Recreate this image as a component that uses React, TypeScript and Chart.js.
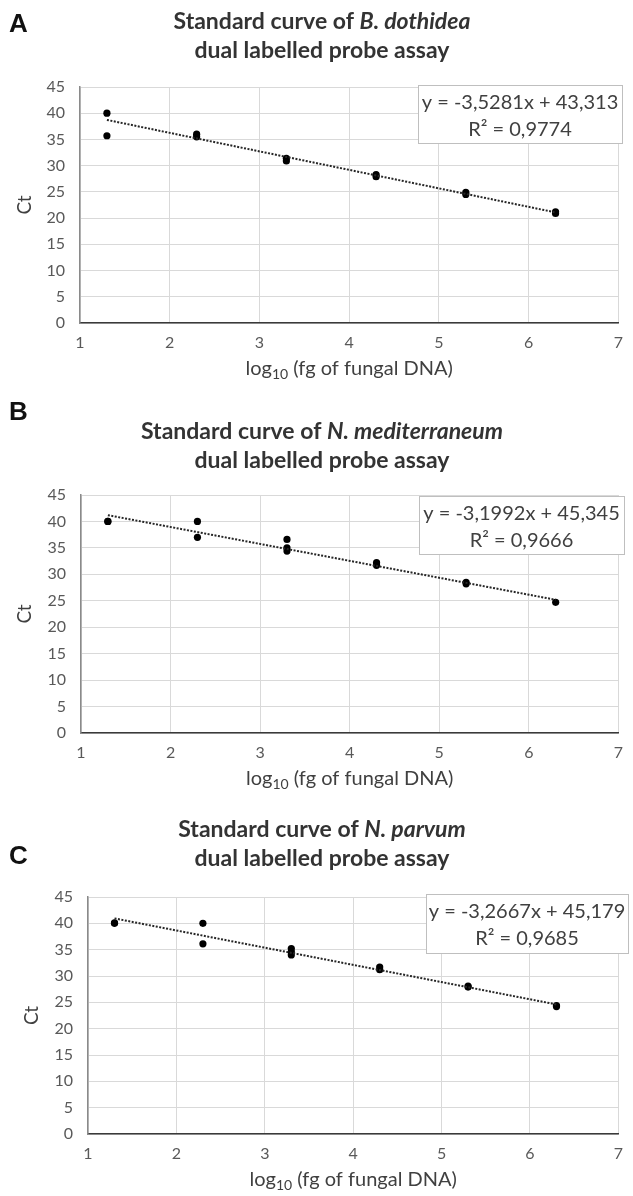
import React, { useEffect, useRef } from "react";
import { Chart, registerables } from "chart.js";

Chart.register(...registerables);

// ---------- shared axis definitions ----------
const X_MIN = 1;
const X_MAX = 7;
const Y_MIN = 0;
const Y_MAX = 45;
const X_STEP = 1;
const Y_STEP = 5;
const X_TITLE_MAIN = "log";
const X_TITLE_SUB = "10";
const X_TITLE_REST = " (fg of fungal DNA)";
const Y_TITLE = "Ct";

// ---------- panel A: B. dothidea ----------
const A_LOG_DNA = [1.3, 1.3, 2.3, 2.3, 3.3, 3.3, 4.3, 4.3, 5.3, 5.3, 6.3, 6.3];
const A_CT = [40.0, 35.7, 36.0, 35.5, 31.4, 30.9, 28.3, 27.9, 24.9, 24.5, 21.2, 20.9];
const A_SLOPE = -3.5281;
const A_INTERCEPT = 43.313;
const A_EQUATION = "y = -3,5281x + 43,313";
const A_R2 = "R² = 0,9774";
const A_SPECIES = "B. dothidea";

// ---------- panel B: N. mediterraneum ----------
const B_LOG_DNA = [1.3, 1.3, 2.3, 2.3, 3.3, 3.3, 3.3, 4.3, 4.3, 5.3, 5.3, 6.3];
const B_CT = [40.0, 40.0, 40.0, 37.0, 36.6, 35.0, 34.4, 32.2, 31.7, 28.5, 28.2, 24.7];
const B_SLOPE = -3.1992;
const B_INTERCEPT = 45.345;
const B_EQUATION = "y = -3,1992x + 45,345";
const B_R2 = "R² = 0,9666";
const B_SPECIES = "N. mediterraneum";

// ---------- panel C: N. parvum ----------
const C_LOG_DNA = [1.3, 1.3, 2.3, 2.3, 3.3, 3.3, 3.3, 4.3, 4.3, 5.3, 5.3, 6.3, 6.3];
const C_CT = [40.1, 40.0, 40.0, 36.1, 35.2, 34.6, 34.0, 31.7, 31.2, 28.1, 27.9, 24.4, 24.2];
const C_SLOPE = -3.2667;
const C_INTERCEPT = 45.179;
const C_EQUATION = "y = -3,2667x + 45,179";
const C_R2 = "R² = 0,9685";
const C_SPECIES = "N. parvum";

const TITLE_PREFIX = "Standard curve of ";
const TITLE_LINE2 = "dual labelled probe assay";

const FONT = "Lato, 'Open Sans', sans-serif";
const LETTER_FONT = "bold 26px 'Liberation Sans', Arial, sans-serif";

type Layout = {
  top: number;
  height: number;
  area: { left: number; top: number; right: number; bottom: number };
  yTitlePad: number;
  letterY: number;
  titleY1: number;
  titleY2: number;
  box: { left: number; top: number; width: number; height: number };
};

type PanelProps = {
  letter: string;
  species: string;
  xs: number[];
  ys: number[];
  slope: number;
  intercept: number;
  equation: string;
  r2: string;
  layout: Layout;
};

function Panel({ letter, species, xs, ys, slope, intercept, equation, r2, layout }: PanelProps) {
  const ref = useRef<HTMLCanvasElement>(null);

  useEffect(() => {
    const canvas = ref.current;
    if (!canvas) return;
    const W = 633;
    const H = layout.height;
    const xAxisH = 40;
    const a = layout.area;

    const points = xs.map((x, i) => ({ x, y: ys[i] }));
    const xFirst = Math.min(...xs);
    const xLast = Math.max(...xs);
    const trend = [
      { x: xFirst, y: slope * xFirst + intercept },
      { x: xLast, y: slope * xLast + intercept },
    ];

    const textPlugin = {
      id: "panelText",
      afterDraw(chart: any) {
        const ctx = chart.ctx as CanvasRenderingContext2D;
        const ca = chart.chartArea;
        ctx.save();
        ctx.textBaseline = "alphabetic";

        // panel letter
        ctx.fillStyle = "#111";
        ctx.font = LETTER_FONT;
        ctx.textAlign = "left";
        ctx.fillText(letter, 9, layout.letterY);

        // title
        ctx.fillStyle = "#333";
        const cx = 322;
        const normal = `bold 23px ${FONT}`;
        const italic = `italic bold 23px ${FONT}`;
        ctx.font = normal;
        const w1 = ctx.measureText(TITLE_PREFIX).width;
        ctx.font = italic;
        const w2 = ctx.measureText(species).width;
        const sx = cx - (w1 + w2) / 2;
        ctx.font = normal;
        ctx.fillText(TITLE_PREFIX, sx, layout.titleY1);
        ctx.font = italic;
        ctx.fillText(species, sx + w1, layout.titleY1);
        ctx.font = normal;
        ctx.textAlign = "center";
        ctx.fillText(TITLE_LINE2, cx, layout.titleY2);

        // x axis title with subscript
        ctx.textAlign = "left";
        ctx.fillStyle = "#404040";
        const main = `20px ${FONT}`;
        const sub = `14px ${FONT}`;
        ctx.font = main;
        const m1 = ctx.measureText(X_TITLE_MAIN).width;
        const m3 = ctx.measureText(X_TITLE_REST).width;
        ctx.font = sub;
        const m2 = ctx.measureText(X_TITLE_SUB).width;
        const xc = (ca.left + ca.right) / 2;
        const by = ca.bottom + 52;
        let tx = xc - (m1 + m2 + m3) / 2;
        ctx.font = main;
        ctx.fillText(X_TITLE_MAIN, tx, by);
        tx += m1;
        ctx.font = sub;
        ctx.fillText(X_TITLE_SUB, tx, by + 4);
        tx += m2;
        ctx.font = main;
        ctx.fillText(X_TITLE_REST, tx, by);

        // equation box
        const b = layout.box;
        ctx.fillStyle = "#ffffff";
        ctx.fillRect(b.left, b.top, b.width, b.height);
        ctx.strokeStyle = "#bfbfbf";
        ctx.lineWidth = 1;
        ctx.strokeRect(b.left + 0.5, b.top + 0.5, b.width, b.height);
        ctx.fillStyle = "#404040";
        ctx.font = `20px ${FONT}`;
        ctx.textAlign = "center";
        ctx.fillText(equation, b.left + b.width / 2, b.top + 24);
        ctx.fillText(r2, b.left + b.width / 2, b.top + 51);

        ctx.restore();
      },
    };

    const chart = new Chart(canvas, {
      type: "scatter",
      data: {
        datasets: [
          {
            type: "line",
            data: trend,
            borderColor: "#262626",
            borderWidth: 2,
            borderDash: [2, 1.5],
            pointRadius: 0,
            fill: false,
            order: 0,
          } as any,
          {
            data: points,
            backgroundColor: "#000",
            borderColor: "#000",
            borderWidth: 0,
            pointRadius: 3.6,
            order: 1,
          },
        ],
      },
      options: {
        responsive: false,
        animation: false,
        devicePixelRatio: 1,
        layout: {
          padding: {
            left: 0,
            top: a.top,
            right: W - a.right,
            bottom: H - a.bottom - xAxisH,
          },
        },
        plugins: {
          legend: { display: false },
          tooltip: { enabled: false },
          title: { display: false },
        },
        scales: {
          x: {
            type: "linear",
            min: X_MIN,
            max: X_MAX,
            afterFit: (s: any) => {
              s.height = xAxisH;
            },
            ticks: {
              stepSize: X_STEP,
              color: "#595959",
              font: { family: FONT, size: 16 },
              padding: 10,
            },
            grid: { color: "#d9d9d9", lineWidth: 1, drawTicks: false },
            border: { color: "#3a3a3a", width: 1.5 },
          },
          y: {
            type: "linear",
            min: Y_MIN,
            max: Y_MAX,
            afterFit: (s: any) => {
              s.width = a.left;
            },
            ticks: {
              stepSize: Y_STEP,
              color: "#595959",
              font: { family: FONT, size: 16 },
              padding: 15,
            },
            grid: { color: "#d9d9d9", lineWidth: 1, drawTicks: false },
            border: { color: "#8a8a8a", width: 1.5 },
            title: {
              display: true,
              text: Y_TITLE,
              color: "#404040",
              font: { family: FONT, size: 19 },
              padding: { top: layout.yTitlePad, bottom: 0 },
            },
          },
        },
      },
      plugins: [textPlugin],
    });
    return () => chart.destroy();
  }, []);

  return (
    <canvas
      ref={ref}
      width={633}
      height={layout.height}
      style={{ position: "absolute", left: 0, top: layout.top, width: 633, height: layout.height, display: "block" }}
    />
  );
}

const LAYOUT_A: Layout = {
  top: 0,
  height: 395,
  area: { left: 80, top: 87, right: 623, bottom: 323 },
  yTitlePad: 13,
  letterY: 32,
  titleY1: 29,
  titleY2: 58,
  box: { left: 418, top: 85, width: 204, height: 58 },
};

const LAYOUT_B: Layout = {
  top: 395,
  height: 400,
  area: { left: 81, top: 100, right: 624, bottom: 338 },
  yTitlePad: 13,
  letterY: 25,
  titleY1: 44,
  titleY2: 73,
  box: { left: 419, top: 101, width: 205, height: 58 },
};

const LAYOUT_C: Layout = {
  top: 795,
  height: 401,
  area: { left: 88, top: 102, right: 628, bottom: 339 },
  yTitlePad: 20,
  letterY: 69,
  titleY1: 42,
  titleY2: 71,
  box: { left: 426, top: 99, width: 202, height: 59 },
};

export default function App() {
  return (
    <div style={{ position: "absolute", left: 0, top: 0, width: 633, height: 1196, background: "#fff", overflow: "hidden" }}>
      <Panel letter="A" species={A_SPECIES} xs={A_LOG_DNA} ys={A_CT} slope={A_SLOPE} intercept={A_INTERCEPT} equation={A_EQUATION} r2={A_R2} layout={LAYOUT_A} />
      <Panel letter="B" species={B_SPECIES} xs={B_LOG_DNA} ys={B_CT} slope={B_SLOPE} intercept={B_INTERCEPT} equation={B_EQUATION} r2={B_R2} layout={LAYOUT_B} />
      <Panel letter="C" species={C_SPECIES} xs={C_LOG_DNA} ys={C_CT} slope={C_SLOPE} intercept={C_INTERCEPT} equation={C_EQUATION} r2={C_R2} layout={LAYOUT_C} />
    </div>
  );
}
